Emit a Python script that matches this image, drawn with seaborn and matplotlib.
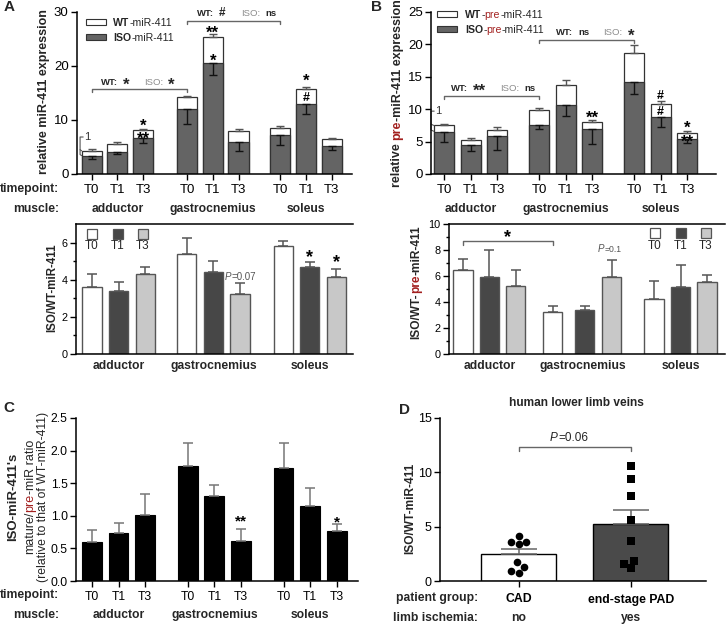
import numpy as np
import pandas as pd
import matplotlib
matplotlib.use('Agg')
import matplotlib.pyplot as plt
import seaborn as sns
from matplotlib.transforms import blended_transform_factory
from matplotlib.patches import Rectangle

# ---------------- data ----------------
timepoints = ['T0', 'T1', 'T3']
muscles = ['adductor', 'gastrocnemius', 'soleus']
tick_labels = timepoints * 3

# A (top): relative miR-411 expression, stacked ISO (bottom) + WT (top)
a_iso = [3.3, 4.0, 6.6, 12.1, 20.6, 6.0, 7.3, 13.0, 5.1]
a_iso_sem = [0.55, 0.3, 0.85, 2.8, 2.2, 1.75, 1.9, 1.8, 0.6]
a_wt = [1.0, 1.6, 1.5, 2.1, 4.8, 2.0, 1.3, 2.7, 1.3]
a_wt_sem = [0.3, 0.4, 0.2, 0.3, 0.6, 0.4, 0.35, 0.35, 0.3]

# A (bottom): ISO/WT-miR-411
a_ratio = [3.6, 3.4, 4.3, 5.4, 4.4, 3.25, 5.8, 4.7, 4.15]
a_ratio_sem = [0.72, 0.5, 0.4, 0.85, 0.62, 0.6, 0.27, 0.28, 0.43]

# B (top): relative pre-miR-411 expression
b_iso = [6.5, 4.4, 5.8, 7.6, 10.6, 7.0, 14.2, 8.8, 5.4]
b_iso_sem = [1.6, 0.9, 2.05, 0.66, 1.7, 2.4, 1.85, 1.6, 0.6]
b_wt = [1.0, 0.9, 1.05, 2.35, 3.2, 1.1, 4.5, 2.0, 1.0]
b_wt_sem = [0.27, 0.26, 0.35, 0.25, 0.65, 0.28, 1.2, 0.4, 0.29]

# B (bottom): ISO/WT-pre-miR-411
b_ratio = [6.5, 5.9, 5.25, 3.2, 3.4, 5.9, 4.2, 5.15, 5.55]
b_ratio_sem = [0.8, 2.1, 1.25, 0.5, 0.32, 1.36, 1.4, 1.7, 0.5]

# C: mature/pre-miR ratio
c_ratio = [0.60, 0.73, 1.01, 1.76, 1.31, 0.61, 1.74, 1.15, 0.76]
c_ratio_sem = [0.18, 0.16, 0.33, 0.35, 0.17, 0.19, 0.38, 0.28, 0.11]

# D: human lower limb veins
d_groups = ['CAD', 'end-stage PAD']
d_ischemia = ['no', 'yes']
cad_values = [4.17, 3.40, 3.56, 3.62, 1.72, 1.32, 0.95, 0.77]
pad_values = [10.6, 9.36, 7.85, 5.61, 3.71, 1.87, 1.56, 1.22]

# ---------------- layout / style ----------------
posA = [0, 1, 2, 3.72, 4.72, 5.72, 7.35, 8.35, 9.35]
posAb = [0, 1, 2, 3.56, 4.56, 5.56, 7.18, 8.18, 9.18]
posB = [0, 1, 2, 3.6, 4.6, 5.6, 7.2, 8.2, 9.2]
posBb = [0, 1, 2, 3.41, 4.62, 5.64, 7.25, 8.26, 9.26]
posC = [0, 1, 2, 3.6, 4.6, 5.6, 7.2, 8.2, 9.2]

W, H = 726, 625
sns.set_style('ticks')
plt.rcParams['font.family'] = ['Liberation Sans', 'DejaVu Sans']
plt.rcParams['axes.linewidth'] = 1.0
plt.rcParams['axes.edgecolor'] = 'black'
plt.rcParams['xtick.color'] = 'black'
plt.rcParams['ytick.color'] = 'black'

RED = '#a3201f'
GRAYTXT = '#8c8c8c'
DARK = '#646464'
T1C = '#474747'
T3C = '#c8c8c8'

fig = plt.figure(figsize=(W / 100, H / 100), dpi=100)
renderer = fig.canvas.get_renderer()


def add_ax(l, t, r, b):
    return fig.add_axes([l / W, 1 - b / H, (r - l) / W, (b - t) / H])


def P(x, y):
    return (x, H - y)


def ftext(x, y, s, **kw):
    return fig.text(x / W, 1 - y / H, s, **kw)


def text_w(s, **kw):
    t1 = fig.text(0, 0, s + '|', **kw)
    w1 = t1.get_window_extent(renderer).width
    t1.remove()
    t2 = fig.text(0, 0, '|', **kw)
    w2 = t2.get_window_extent(renderer).width
    t2.remove()
    return w1 - w2


def rich(xy, pieces, size, rotation=0, align='center'):
    xd, yd = xy
    items = []
    for piece in pieces:
        s = piece[0]
        props = dict(piece[1]) if len(piece) > 1 else {}
        fs = props.pop('size', size)
        dy = props.pop('dy', 0)
        gap = props.pop('gap', 0)
        w = text_w(s, fontsize=fs, **props)
        items.append((s, props, fs, dy, w, gap))
    total = sum(it[4] + it[5] for it in items) - items[-1][5]
    cap = 0.72 * size * 100 / 72
    if rotation == 0:
        x = xd - total / 2 if align == 'center' else xd
        base = yd - cap / 2
        for s, props, fs, dy, w, gap in items:
            fig.text(x / W, (base + dy) / H, s, fontsize=fs, ha='left', va='baseline', **props)
            x += w + gap
    else:
        y = yd - total / 2
        base = xd + cap / 2
        for s, props, fs, dy, w, gap in items:
            fig.text((base - dy) / W, y / H, s, fontsize=fs, rotation=90,
                     rotation_mode='anchor', ha='left', va='baseline', **props)
            y += w + gap


def dpt(ax, x, y):
    return tuple(ax.transData.transform((x, y)))


def mark(ax, x, y, s, size=12, ink=0.58, color='black', weight='bold'):
    ax.annotate(s, (x, y), xytext=(0, -ink * size), textcoords='offset points',
                ha='center', va='baseline', fontsize=size, fontweight=weight,
                color=color, annotation_clip=False)


def bracket(ax, x1, x2, y, leg, color='#666666'):
    ax.plot([x1, x1, x2, x2], [y - leg, y, y, y - leg], color=color, lw=1.0, clip_on=False)


def style(ax, spines=('left', 'bottom'), xlen=4, size=9):
    for sp in ['top', 'right', 'left', 'bottom']:
        ax.spines[sp].set_visible(sp in spines)
        ax.spines[sp].set_color('black')
        ax.spines[sp].set_linewidth(1.1)
    ax.tick_params(axis='y', length=4, width=1, labelsize=size, pad=2)
    ax.tick_params(axis='x', length=xlen, width=1, labelsize=size, pad=3)
    ax.set_xlabel('')
    ax.set_ylabel('')


def grp_labels(ax, pos, ypx, size):
    tr = blended_transform_factory(ax.transData, fig.transFigure)
    for i, m in enumerate(muscles):
        xc = np.mean(pos[3 * i:3 * i + 3])
        ax.text(xc, 1 - ypx / H, m, transform=tr, ha='center', va='center',
                fontsize=size, fontweight='bold')


def stacked(ax, pos, iso, iso_sem, wt, wt_sem, width):
    total = list(np.add(iso, wt))
    df = pd.DataFrame({'pos': pos, 'total': total, 'iso': iso})
    sns.barplot(data=df, x='pos', y='total', native_scale=True, color='white',
                edgecolor='#333333', linewidth=0.9, width=width, saturation=1,
                errorbar=None, ax=ax)
    sns.barplot(data=df, x='pos', y='iso', native_scale=True, color=DARK,
                edgecolor='#333333', linewidth=0.9, width=width, saturation=1,
                errorbar=None, ax=ax)
    z = np.zeros(len(pos))
    ax.errorbar(pos, total, yerr=[z, wt_sem], fmt='none', ecolor='#555555',
                elinewidth=1, capsize=3.2, capthick=1, zorder=5)
    ax.errorbar(pos, iso, yerr=[iso_sem, z], fmt='none', ecolor='#111111',
                elinewidth=1, capsize=3.2, capthick=1, zorder=5)


def ratio_bars(ax, pos, vals, sem, width):
    df = pd.DataFrame({'pos': pos, 'val': vals, 'tp': timepoints * 3})
    sns.barplot(data=df, x='pos', y='val', hue='tp', hue_order=timepoints,
                palette=['white', T1C, T3C], native_scale=True, dodge=False,
                width=width, errorbar=None, saturation=1, edgecolor='#555555',
                linewidth=1.0, legend=False, ax=ax)
    z = np.zeros(len(pos))
    ax.errorbar(pos, vals, yerr=[z, sem], fmt='none', ecolor='#555555',
                elinewidth=1.1, capsize=3.6, capthick=1.1, zorder=5)


def square_legend(xs, ypx, ylab):
    for x, c, lab in zip(xs, ['white', T1C, T3C], timepoints):
        fig.add_artist(Rectangle(((x - 5) / W, 1 - (ypx + 5) / H), 10 / W, 10 / H,
                                 transform=fig.transFigure, facecolor=c,
                                 edgecolor='#555555', lw=0.9))
        ftext(x, ylab, lab, ha='center', va='center', fontsize=8.5)


# ================= Panel A top =================
axA = add_ax(77, 12, 352, 174)
stacked(axA, posA, a_iso, a_iso_sem, a_wt, a_wt_sem, 0.78)
style(axA, size=9.5)
axA.set_xlim(-0.57, 10.14)
axA.set_ylim(0, 30)
axA.set_yticks([0, 10, 20, 30])
axA.set_xticks(posA, tick_labels)
ftext(44, 92, 'relative miR-411 expression', rotation=90, ha='center', va='center',
      fontsize=9, fontweight='bold')
ftext(59, 189, 'timepoint:', ha='right', va='center', fontsize=8.7, fontweight='bold')
ftext(59, 209, 'muscle:', ha='right', va='center', fontsize=8.7, fontweight='bold')
grp_labels(axA, posA, 209, 8.7)
# legend
for ypx, c, lab in [(22, 'white', 'WT'), (37, DARK, 'ISO')]:
    fig.add_artist(Rectangle((86 / W, 1 - (ypx + 2.5) / H), 20 / W, 5 / H,
                             transform=fig.transFigure, facecolor=c,
                             edgecolor='#333333', lw=0.8))
    rich(P(113, ypx), [(lab, {'fontweight': 'bold'}), ('-miR-411', {})], 7.6, align='left')
# "1" bracket
axA.plot([-0.33, -0.45, -0.45, -0.39], [6.85, 6.85, 4.5, 4.3], color='#555555', lw=0.8, clip_on=False)
axA.plot([-0.45, -0.45, -0.39], [4.5, 3.6, 3.4], color='#555555', lw=0.8, clip_on=False)
axA.text(-0.31, 6.85, '1', ha='left', va='center', fontsize=8, color='#333333')
# brackets and significance
bracket(axA, posA[0], posA[3], 15.7, 0.6)
rich(dpt(axA, 1.8, 17.2), [('WT:', {'fontweight': 'bold', 'gap': 5}),
                           ('*', {'fontweight': 'bold', 'size': 12, 'dy': -5, 'gap': 14}),
                           ('ISO:', {'color': GRAYTXT, 'gap': 5}),
                           ('*', {'fontweight': 'bold', 'size': 12, 'dy': -5})], 6.8)
bracket(axA, posA[3], posA[6], 28.4, 0.6)
rich(dpt(axA, 5.66, 29.8), [('WT:', {'fontweight': 'bold', 'gap': 5}),
                            ('#', {'fontweight': 'bold', 'size': 8.5, 'gap': 16}),
                            ('ISO:', {'color': GRAYTXT, 'gap': 5}),
                            ('ns', {'fontweight': 'bold'})], 6.8)
mark(axA, posA[2], 9.85, '*')
mark(axA, posA[2], 7.3, '**')
mark(axA, posA[4], 27.0, '**')
mark(axA, posA[4], 21.8, '*')
mark(axA, posA[7], 18.1, '*')
mark(axA, posA[7], 14.4, '#', size=9, ink=0.36)

# ================= Panel A bottom =================
axAb = add_ax(76, 224, 353, 354)
ratio_bars(axAb, posAb, a_ratio, a_ratio_sem, 0.72)
style(axAb, spines=('left', 'bottom', 'top'), xlen=0, size=7.8)
axAb.set_xlim(-0.6, 9.8)
axAb.set_ylim(0, 7)
axAb.set_yticks([0, 2, 4, 6])
axAb.set_yticks([1, 3, 5], minor=True)
axAb.tick_params(axis='y', which='minor', length=2.5, width=1)
axAb.set_xticks([])
ftext(52, 288, 'ISO/WT-miR-411', rotation=90, ha='center', va='center',
      fontsize=8.3, fontweight='bold')
grp_labels(axAb, posAb, 366, 8.7)
square_legend([92, 118, 143], 234, 246)
rich(dpt(axAb, 5.58, 4.2), [('P', {'style': 'italic', 'color': '#555555'}),
                            ('=0.07', {'color': '#555555'})], 7)
mark(axAb, posAb[7], 5.5, '*', size=13)
mark(axAb, posAb[8], 5.25, '*', size=13)

# ================= Panel B top =================
axB = add_ax(431, 12, 716, 174)
stacked(axB, posB, b_iso, b_iso_sem, b_wt, b_wt_sem, 0.76)
style(axB, size=9.5)
axB.set_xlim(-0.5, 10.3)
axB.set_ylim(0, 25)
axB.set_yticks([0, 5, 10, 15, 20, 25])
axB.set_xticks(posB, tick_labels)
rich(P(396, 93), [('relative ', {'fontweight': 'bold'}),
                  ('pre', {'fontweight': 'bold', 'color': RED}),
                  ('-miR-411 expression', {'fontweight': 'bold'})], 9, rotation=90)
grp_labels(axB, posB, 209, 8.7)
for ypx, c, lab in [(14, 'white', 'WT'), (29, DARK, 'ISO')]:
    fig.add_artist(Rectangle((437 / W, 1 - (ypx + 2.5) / H), 20 / W, 5 / H,
                             transform=fig.transFigure, facecolor=c,
                             edgecolor='#333333', lw=0.8))
    rich(P(465, ypx), [(lab, {'fontweight': 'bold'}), ('-', {}),
                       ('pre', {'color': RED}), ('-miR-411', {})], 7.6, align='left')
axB.plot([-0.38, -0.5, -0.5, -0.4], [9.7, 9.7, 7.7, 7.5], color='#555555', lw=0.8, clip_on=False)
axB.plot([-0.5, -0.5, -0.4], [7.7, 6.8, 6.6], color='#555555', lw=0.8, clip_on=False)
axB.text(-0.36, 9.7, '1', ha='left', va='center', fontsize=8, color='#333333')
bracket(axB, posB[0], posB[3], 12.0, 0.45)
rich(dpt(axB, 1.87, 13.3), [('WT:', {'fontweight': 'bold', 'gap': 5}),
                            ('**', {'fontweight': 'bold', 'size': 12, 'dy': -5, 'gap': 14}),
                            ('ISO:', {'color': GRAYTXT, 'gap': 5}),
                            ('ns', {'fontweight': 'bold'})], 6.8)
bracket(axB, posB[3], posB[6], 20.7, 0.45)
rich(dpt(axB, 5.72, 21.9), [('WT:', {'fontweight': 'bold', 'gap': 5}),
                            ('ns', {'fontweight': 'bold', 'gap': 14}),
                            ('ISO:', {'color': GRAYTXT, 'gap': 5}),
                            ('*', {'fontweight': 'bold', 'size': 12, 'dy': -5})], 6.8)
mark(axB, posB[5], 9.4, '**')
mark(axB, posB[7], 12.2, '#', size=9, ink=0.36)
mark(axB, posB[7], 9.8, '#', size=9, ink=0.36)
mark(axB, posB[8], 7.85, '*')
mark(axB, posB[8], 5.75, '**')

# ================= Panel B bottom =================
axBb = add_ax(449, 224, 725, 354)
ratio_bars(axBb, posBb, b_ratio, b_ratio_sem, 0.73)
style(axBb, spines=('left', 'bottom', 'top'), xlen=0, size=7.8)
axBb.set_xlim(-0.53, 9.94)
axBb.set_ylim(0, 10)
axBb.set_yticks([0, 2, 4, 6, 8, 10])
axBb.set_yticks([1, 3, 5, 7, 9], minor=True)
axBb.tick_params(axis='y', which='minor', length=2.5, width=1)
axBb.set_xticks([])
rich(P(415, 282), [('ISO/WT-', {'fontweight': 'bold'}),
                   ('pre', {'fontweight': 'bold', 'color': RED}),
                   ('-miR-411', {'fontweight': 'bold'})], 8.6, rotation=90)
grp_labels(axBb, posBb, 366, 8.7)
square_legend([655, 681, 706], 233, 246)
bracket(axBb, posBb[0], posBb[3], 8.7, 0.3)
mark(axBb, 1.7, 9.45, '*', size=13)
rich(dpt(axBb, 5.57, 8.05), [('P', {'style': 'italic', 'color': '#555555', 'size': 7}),
                             ('=0.1', {'color': '#555555'})], 6.2)

# ================= Panel C =================
axC = add_ax(76, 418, 358, 581)
dfC = pd.DataFrame({'pos': posC, 'val': c_ratio})
sns.barplot(data=dfC, x='pos', y='val', native_scale=True, color='black',
            edgecolor='black', linewidth=0.8, width=0.74, saturation=1,
            errorbar=None, ax=axC)
axC.errorbar(posC, c_ratio, yerr=[np.zeros(9), c_ratio_sem], fmt='none',
             ecolor='#777777', elinewidth=1.1, capsize=3.6, capthick=1.1, zorder=5)
style(axC, size=8.7)
axC.set_xlim(-0.6, 10.0)
axC.set_ylim(0, 2.5)
axC.set_yticks([0, 0.5, 1.0, 1.5, 2.0, 2.5], ['0.0', '0.5', '1.0', '1.5', '2.0', '2.5'])
axC.set_xticks(posC, tick_labels)
ftext(13, 497, "ISO-miR-411's", rotation=90, ha='center', va='center',
      fontsize=9.5, fontweight='bold')
rich(P(29, 497), [('mature/', {}), ('pre', {'color': RED}), ('-miR ratio', {})], 9, rotation=90)
ftext(43, 497, '(relative to that of WT-miR-411)', rotation=90, ha='center', va='center',
      fontsize=8.8)
ftext(59, 595, 'timepoint:', ha='right', va='center', fontsize=8.7, fontweight='bold')
ftext(59, 615, 'muscle:', ha='right', va='center', fontsize=8.7, fontweight='bold')
grp_labels(axC, posC, 615, 8.7)
mark(axC, posC[5], 0.98, '**', size=11)
mark(axC, posC[8], 0.97, '*', size=11)

# ================= Panel D =================
axD = add_ax(440, 418, 706, 581)
dfD = pd.DataFrame({'group': ['CAD'] * len(cad_values) + ['end-stage PAD'] * len(pad_values),
                    'value': cad_values + pad_values})
sns.barplot(data=dfD, x='group', y='value', hue='group', order=d_groups,
            hue_order=d_groups, palette=['white', '#4a4a4a'], errorbar=None,
            width=0.67, edgecolor='black', linewidth=1.0, saturation=1,
            legend=False, ax=axD)
means = dfD.groupby('group', sort=False)['value'].mean().reindex(d_groups).values
sems = dfD.groupby('group', sort=False)['value'].sem().reindex(d_groups).values
axD.errorbar([0, 1], means, yerr=[[0, 0], sems], fmt='none', ecolor='#666666',
             elinewidth=1.1, capsize=13, capthick=1.1, zorder=5)
sns.swarmplot(data=dfD[dfD.group == 'CAD'], x='group', y='value', order=d_groups,
              color='black', marker='o', size=5.5, ax=axD, zorder=6)
sns.swarmplot(data=dfD[dfD.group == 'end-stage PAD'], x='group', y='value', order=d_groups,
              color='black', marker='s', size=5.5, ax=axD, zorder=6)
style(axD, size=9)
axD.set_xlim(-0.7, 1.67)
axD.set_ylim(0, 15)
axD.set_yticks([0, 5, 10, 15])
axD.set_xticks([0, 1], d_groups, fontweight='bold', fontsize=8.8)
axD.tick_params(axis='x', pad=5)
ftext(410, 508, 'ISO/WT-miR-411', rotation=90, ha='center', va='center',
      fontsize=8.6, fontweight='bold')
ftext(576, 403, 'human lower limb veins', ha='center', va='center',
      fontsize=8.6, fontweight='bold')
ftext(478, 598, 'patient group:', ha='right', va='center', fontsize=8.7, fontweight='bold')
ftext(478, 618, 'limb ischemia:', ha='right', va='center', fontsize=8.7, fontweight='bold')
trD = blended_transform_factory(axD.transData, fig.transFigure)
for i, s in enumerate(d_ischemia):
    axD.text(i, 1 - 618 / H, s, transform=trD, ha='center', va='center',
             fontsize=8.7, fontweight='bold')
bracket(axD, 0, 1, 12.3, 0.35)
rich(dpt(axD, 0.45, 13.3), [('P', {'style': 'italic'}), ('=0.06', {})], 8.5)

# panel letters
for lab, x, y in [('A', 9, 7), ('B', 377, 7), ('C', 9, 408), ('D', 405, 410)]:
    ftext(x, y, lab, ha='center', va='center', fontsize=11, fontweight='bold')

fig.savefig('out.png', dpi=100)
